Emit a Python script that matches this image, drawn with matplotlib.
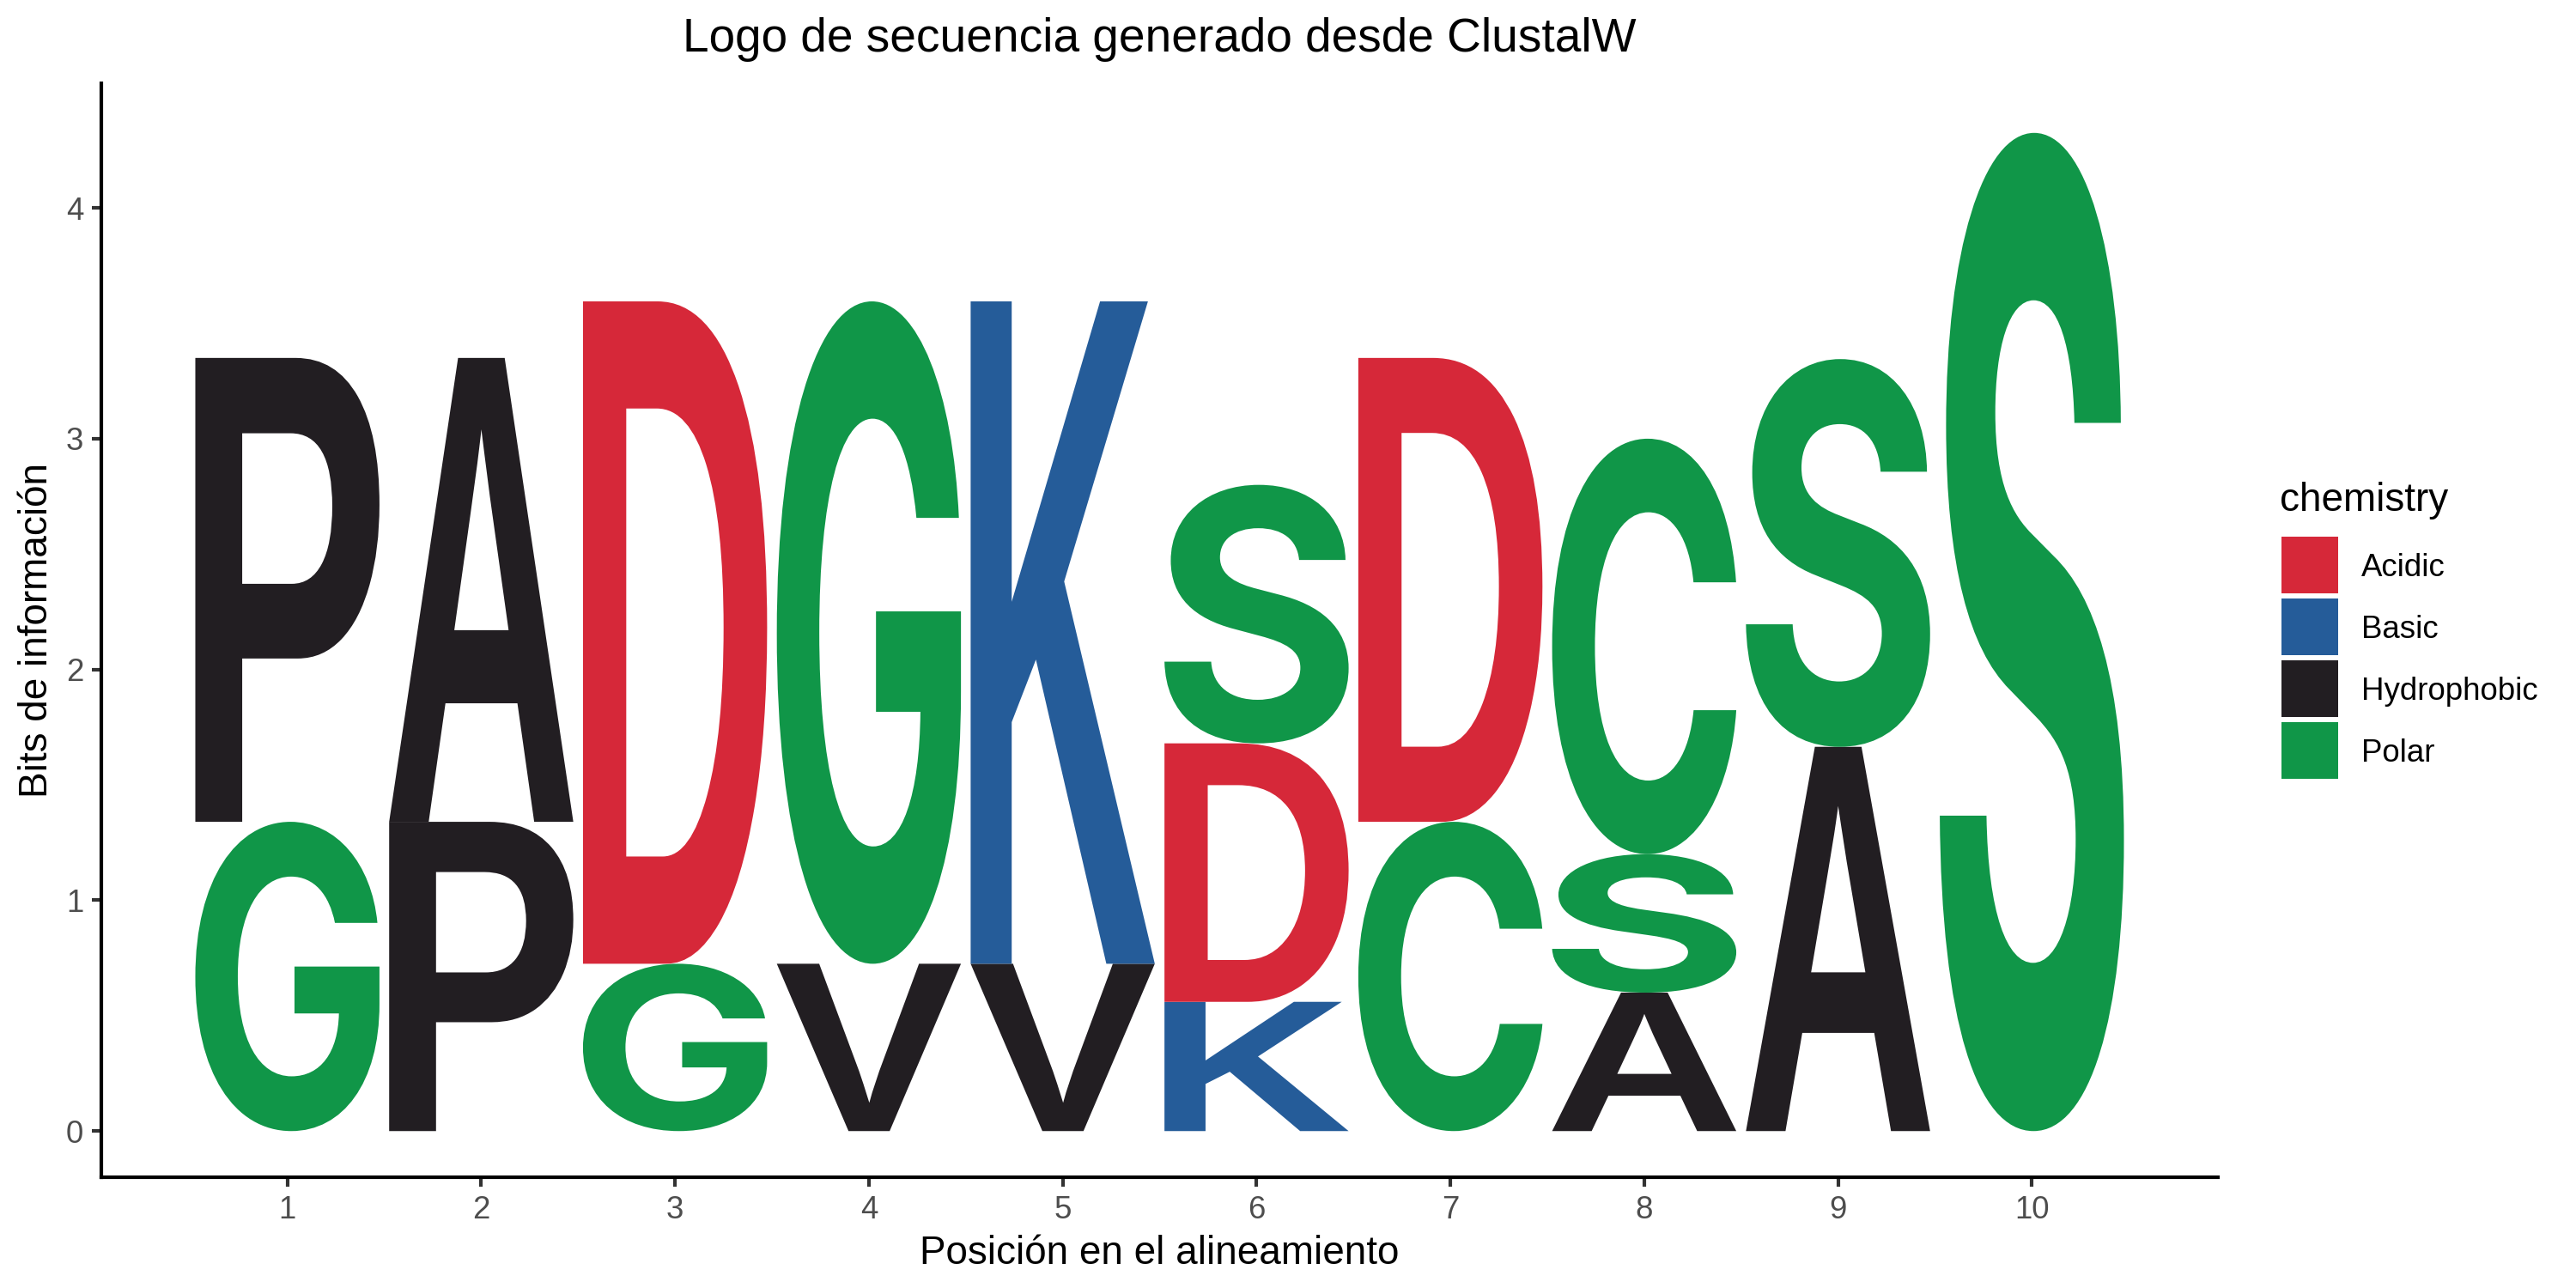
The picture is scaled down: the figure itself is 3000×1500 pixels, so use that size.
import matplotlib
matplotlib.use("Agg")
import matplotlib.pyplot as plt
from matplotlib.textpath import TextPath
from matplotlib.font_manager import FontProperties
from matplotlib.patches import PathPatch, Rectangle
from matplotlib.transforms import Affine2D

# ---------------- data ----------------
positions = [1, 2, 3, 4, 5, 6, 7, 8, 9, 10]
stack_letters = [["G", "P"], ["P", "A"], ["G", "D"], ["V", "G"], ["V", "K"],
                 ["K", "D", "S"], ["C", "D"], ["A", "S", "C"], ["A", "S"], ["S"]]
stack_heights = [[1.34, 2.01], [1.34, 2.01], [0.725, 2.87], [0.725, 2.87], [0.725, 2.87],
                 [0.56, 1.12, 1.12], [1.34, 2.01], [0.60, 0.60, 1.80], [1.665, 1.68], [4.325]]
categories = ["Acidic", "Basic", "Hydrophobic", "Polar"]
category_colors = ["#D62839", "#255C99", "#221E22", "#109648"]
letter_class = {"D": "Acidic", "E": "Acidic",
                "K": "Basic", "R": "Basic", "H": "Basic",
                "A": "Hydrophobic", "V": "Hydrophobic", "L": "Hydrophobic", "I": "Hydrophobic",
                "P": "Hydrophobic", "W": "Hydrophobic", "F": "Hydrophobic", "M": "Hydrophobic",
                "G": "Polar", "S": "Polar", "T": "Polar", "Y": "Polar", "C": "Polar",
                "Q": "Polar", "N": "Polar"}
y_ticks = [0, 1, 2, 3, 4]
title = "Logo de secuencia generado desde ClustalW"
x_title = "Posición en el alineamiento"
y_title = "Bits de información"
legend_title = "chemistry"

# ---------------- layout ----------------
W, H = 3000, 1500
plt.rcParams['font.family'] = ['Liberation Sans', 'DejaVu Sans']
fig = plt.figure(figsize=(10, 5), dpi=300)
ax_l, ax_r, ax_t, ax_b = 118, 2583, 97, 1371
ax = fig.add_axes([ax_l / W, 1 - ax_b / H, (ax_r - ax_l) / W, (ax_b - ax_t) / H])
ax.set_xlim(0.04, 10.96)
ax.set_ylim(-0.2, 4.54)

color_of = dict(zip(categories, category_colors))
font_default = FontProperties(family='Liberation Sans', weight='bold')
font_round = FontProperties(family='Inter', weight='bold')   # flat terminals (Helvetica-like)
round_letters = set("GSC")
col_width = 0.95

for pos, lets, hts in zip(positions, stack_letters, stack_heights):
    y0 = 0.0
    for let, h in zip(lets, hts):
        fp = font_round if let in round_letters else font_default
        tp = TextPath((0, 0), let, size=1, prop=fp)
        ext = tp.get_extents()
        tr = (Affine2D().translate(-ext.x0, -ext.y0)
              .scale(col_width / ext.width, h / ext.height)
              .translate(pos - col_width / 2, y0))
        p = tr.transform_path(tp)
        ax.add_patch(PathPatch(p, facecolor=color_of[letter_class[let]],
                               edgecolor='none', lw=0))
        y0 += h

# axes styling (theme_classic-like)
for s in ['top', 'right']:
    ax.spines[s].set_visible(False)
for s in ['left', 'bottom']:
    ax.spines[s].set_linewidth(1.0)
    ax.spines[s].set_color('black')
ax.set_xticks(positions)
ax.set_xticklabels([str(p) for p in positions])
ax.set_yticks(y_ticks)
ax.set_yticklabels([str(t) for t in y_ticks])
ax.tick_params(axis='both', length=2.75, width=1.0, color='#333333',
               labelsize=8.8, labelcolor='#4D4D4D', pad=2.2)
ax.set_xlabel(x_title, fontsize=11, color='black', labelpad=2.75)
ax.set_ylabel(y_title, fontsize=11, color='black', labelpad=2.75)
ax.set_title(title, fontsize=13.2, color='black', pad=8.9)

# legend
fig.text(2655 / W, 1 - 595 / H, legend_title, fontsize=11, ha='left', va='baseline')
key_x, key_top0, key_size, key_step = 2657, 625, 66, 72
for i, (cat, col) in enumerate(zip(categories, category_colors)):
    top = key_top0 + i * key_step
    fig.patches.append(Rectangle((key_x / W, 1 - (top + key_size) / H),
                                 key_size / W, key_size / H,
                                 transform=fig.transFigure, facecolor=col,
                                 edgecolor='none'))
    fig.text(2750 / W, 1 - (top + key_size / 2 + 12.7) / H, cat,
             fontsize=8.8, ha='left', va='baseline', color='black')

fig.savefig('out.png', dpi=300)
